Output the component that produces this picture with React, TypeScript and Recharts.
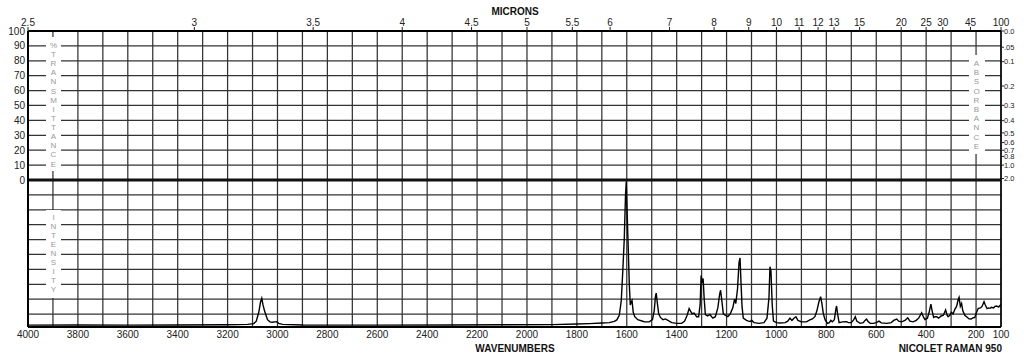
import { ComposedChart, Line, XAxis, YAxis, CartesianGrid, ReferenceLine } from 'recharts'

// Raman spectrum (wavenumber cm-1 -> relative intensity, 100 = tallest band)
const wavenumbers = [
  4000, 3800, 3600, 3400, 3200, 3120, 3095, 3085, 3075, 3068, 3063, 3058, 3052, 3046, 3040, 3030, 3020, 3010, 3003, 2995,
  2980, 2900, 2600, 2300, 2100, 1900, 1800, 1750, 1700, 1670, 1650, 1640, 1630, 1622, 1616, 1610, 1605, 1602, 1598, 1594,
  1590, 1586, 1582, 1579, 1574, 1568, 1556, 1530, 1510, 1497, 1490, 1485, 1482, 1478, 1472, 1465, 1455, 1445, 1435, 1420,
  1400, 1380, 1368, 1358, 1350, 1345, 1338, 1330, 1320, 1312, 1306, 1302, 1298, 1294, 1290, 1285, 1276, 1267, 1255, 1245,
  1235, 1228, 1224, 1219, 1213, 1205, 1195, 1185, 1175, 1168, 1163, 1156, 1150, 1146, 1142, 1138, 1133, 1120, 1112, 1106,
  1099, 1090, 1070, 1050, 1038, 1030, 1026, 1022, 1017, 1012, 1000, 986, 965, 955, 946, 938, 930, 922, 914, 900,
  880, 866, 856, 846, 838, 830, 823, 818, 812, 805, 795, 788, 782, 776, 768, 762, 759, 755, 749, 735,
  719, 712, 700, 690, 684, 678, 665, 652, 645, 639, 633, 624, 612, 600, 589, 580, 558, 540, 530, 518,
  510, 498, 485, 474, 465, 452, 440, 430, 418, 410, 405, 395, 388, 381, 376, 370, 364, 358, 350, 340,
  331, 322, 316, 312, 305, 299, 292, 285, 278, 271, 268, 263, 258, 253, 245, 238, 228, 220, 211, 205,
  198, 191, 182, 176, 168, 163, 156, 150, 144, 138, 130, 124, 117, 110, 105, 100,
]
const intensities = [
  1.3, 1.4, 1.3, 1.4, 1.5, 1.8, 2.3, 4, 10, 17, 19.5, 15, 11, 8, 5, 3.5, 3.2, 3.5, 3.6, 2.5,
  1.8, 1.4, 1.3, 1.4, 1.5, 1.6, 2.0, 2.3, 2.7, 3.0, 3.8, 4.8, 8, 18, 38, 60, 90, 99, 75, 53,
  30, 15, 17, 18, 10, 7, 5, 3.6, 3.5, 5, 11, 21, 23, 17, 9, 6.5, 5, 5.5, 4.5, 3,
  2.5, 2.5, 4, 8, 12.5, 11, 9, 9.5, 7, 7, 15, 35, 30, 33, 20, 8.5, 7.5, 8.5, 6, 7,
  13, 22, 25, 18, 9, 8, 7, 9, 13, 19, 16, 26, 44, 47, 30, 14, 6, 4.5, 4, 3.8,
  4.5, 3, 2.5, 3, 6, 20, 41, 38, 15, 4, 3, 2.7, 3, 4, 6, 4.5, 6, 7, 4.5, 3.5,
  3.5, 4.8, 5.5, 7, 11, 17, 20.6, 16, 9, 4.8, 2.5, 3, 4.5, 3.5, 5, 12, 14.3, 9, 3, 3.5,
  3.6, 3, 3, 5, 7, 4, 2.5, 3, 4.5, 5.4, 3.8, 2.5, 2.5, 3, 4, 2.8, 2.5, 3, 4.5, 5.4,
  4, 3.5, 4.5, 6.3, 4, 3.5, 4.5, 6, 9.7, 6.5, 5, 6, 10, 15.6, 11, 6.5, 7, 7, 6, 7.5,
  8, 11.6, 8, 7, 8, 10, 9, 12, 14, 19, 20.2, 14, 16, 11, 8, 7, 5.5, 5.4, 6.3, 6.5,
  10, 12.7, 13, 14, 17.2, 15, 12.5, 13, 12.7, 13.4, 13, 14, 14.3, 13.5, 14.5, 15.4,
]

// top scale in microns, placed at 10000 / micron
const micronLabels = ['2.5', '3', '3.5', '4', '4.5', '5', '5.5', '6', '7', '8', '9', '10', '11', '12', '13', '15', '20', '25', '30', '45', '100']

// right scale in absorbance, placed at 100 * 10^-A on the %T axis
const absorbanceLabels = ['0.0', '.05', '0.1', '0.2', '0.3', '0.4', '0.5', '0.6', '0.7', '0.8', '1.0', '2.0']

const data = wavenumbers.map((w, i) => ({ w, y: intensities[i] }))
const wnTicks = Array.from({ length: 40 }, (_, i) => 4000 - i * 100)
const micronTicks = micronLabels.map((m) => 10000 / Number(m))
const absTicks = absorbanceLabels.map((a) => 100 * Math.pow(10, -Number(a)))
const tTicks = Array.from({ length: 20 }, (_, i) => 100 - i * 10)

const FONT = '"Liberation Sans", Arial, sans-serif'

const VLetters = ({ text, x, y0, step }: { text: string; x: number; y0: number; step: number }) => (
  <g>
    {text.split('').map((ch, i) => (
      <text key={i} x={x} y={y0 + i * step} textAnchor='middle' dominantBaseline='central'
        fontSize={8} fontFamily={FONT} fill='#999'>
        {ch}
      </text>
    ))}
  </g>
)

export default function App() {
  return (
    <div style={{ position: 'absolute', left: 0, top: 0, width: 1024, height: 356, background: '#fff' }}>
      <ComposedChart width={1024} height={356} data={data} margin={{ top: 0, right: 0, bottom: 0, left: 0 }}>
        <CartesianGrid stroke='#333' strokeWidth={1.25} />
        <XAxis
          dataKey='w'
          type='number'
          domain={[100, 4000]}
          reversed
          ticks={wnTicks}
          interval={0}
          height={29}
          tickLine={false}
          tickSize={0}
          tickMargin={4}
          axisLine={{ stroke: '#000', strokeWidth: 2 }}
          tick={{ fontSize: 10, fontFamily: FONT, fill: '#222' }}
          tickFormatter={(v: number) => (v % 200 === 0 || v === 100 ? String(v) : '')}
          allowDataOverflow
        />
        <XAxis
          xAxisId='top'
          orientation='top'
          dataKey='w'
          type='number'
          domain={[100, 4000]}
          reversed
          ticks={micronTicks}
          interval={0}
          height={31}
          tickSize={4}
          tickMargin={1}
          tickLine={{ stroke: '#222' }}
          axisLine={{ stroke: '#000', strokeWidth: 2 }}
          tick={{ fontSize: 10, fontFamily: FONT, fill: '#222' }}
          tickFormatter={(_: number, i: number) => micronLabels[i]}
          allowDataOverflow
        />
        <YAxis
          type='number'
          domain={[-98.66, 100]}
          ticks={tTicks}
          interval={0}
          width={28}
          tickLine={false}
          tickSize={0}
          tickMargin={3}
          axisLine={{ stroke: '#000', strokeWidth: 2 }}
          tick={{ fontSize: 10, fontFamily: FONT, fill: '#222' }}
          tickFormatter={(v: number) => (v >= 0 ? String(v) : '')}
          allowDataOverflow
        />
        <YAxis
          yAxisId='abs'
          orientation='right'
          type='number'
          domain={[-98.66, 100]}
          ticks={absTicks}
          interval={0}
          width={23}
          tickSize={3}
          tickMargin={0}
          tickLine={{ stroke: '#222' }}
          axisLine={{ stroke: '#000', strokeWidth: 1.5 }}
          tick={{ fontSize: 7.5, fontFamily: FONT, fill: '#222', textAnchor: 'start' }}
          tickFormatter={(_: number, i: number) => absorbanceLabels[i]}
          allowDataOverflow
        />
        <YAxis yAxisId='int' hide type='number' domain={[0, 201.36]} allowDataOverflow />
        <ReferenceLine y={0} stroke='#111' strokeWidth={3} />
        <Line
          yAxisId='int'
          type='linear'
          dataKey='y'
          stroke='#000'
          strokeWidth={1.4}
          dot={false}
          isAnimationActive={false}
        />
      </ComposedChart>
      <svg width={1024} height={356} style={{ position: 'absolute', left: 0, top: 0, pointerEvents: 'none' }}>
        <rect x={46} y={37} width={15} height={134} fill='#fff' />
        <rect x={46} y={210} width={15} height={88} fill='#fff' />
        <rect x={969} y={55} width={16} height={99} fill='#fff' />
        <VLetters text='%TRANSMITTANCE' x={53.5} y0={45.5} step={9.12} />
        <VLetters text='INTENSITY' x={53.5} y0={217} step={9.1} />
        <VLetters text='ABSORBANCE' x={976.5} y0={63.5} step={9.2} />
        <text x={515} y={11} textAnchor='middle' dominantBaseline='central' fontSize={10} fontWeight='bold' fontFamily={FONT} fill='#111'>
          MICRONS
        </text>
        <text x={515} y={348} textAnchor='middle' dominantBaseline='central' fontSize={10} fontWeight='bold' fontFamily={FONT} fill='#111'>
          WAVENUMBERS
        </text>
        <text x={1002} y={348} textAnchor='end' dominantBaseline='central' fontSize={10} fontWeight='bold' fontFamily={FONT} fill='#111'>
          NICOLET RAMAN 950
        </text>
      </svg>
    </div>
  )
}
